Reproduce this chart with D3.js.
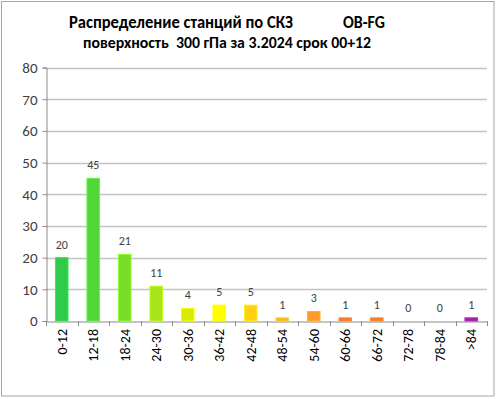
<!DOCTYPE html>
<html><head><meta charset="utf-8">
<script src="https://cdn.jsdelivr.net/npm/d3@7"></script>
<style>
html,body{margin:0;padding:0;background:#fff;}
svg{display:block;}
text{font-family:Carlito,"Open Sans","Liberation Sans",sans-serif;}
</style></head><body>
<svg id="c" width="496" height="399"></svg>
<script>
const categories = ["0-12","12-18","18-24","24-30","30-36","36-42","42-48","48-54","54-60","60-66","66-72","72-78","78-84",">84"];
const values = [20,45,21,11,4,5,5,1,3,1,1,0,0,1];
const barColors = ["#2ecc48","#52d63a","#78de28","#a8e418","#d8ec00","#ffff00","#ffd014","#ffb420","#ff9a2a","#f47a30","#f47a30","#f47a30","#f47a30","#a020a8"];
const yTicks = [0,10,20,30,40,50,60,70,80];
const titleLine1 = ["Распределение станций по СКЗ","OB-FG"];
const titleLine2 = "поверхность  300 гПа за 3.2024 срок 00+12";

const svg = d3.select("#c");
svg.append("rect").attr("x",1.5).attr("y",1.5).attr("width",492.5).attr("height",394.5)
  .attr("fill","#fff").attr("stroke","#a6a6a6").attr("stroke-width",1);

const L=46, R=487, T=67.5, B=321;
const x = d3.scaleBand().domain(categories).range([L,R]).paddingInner(0.6).paddingOuter(0.3);
const xo = d3.scaleBand().domain(categories).range([L,R]);
const y = d3.scaleLinear().domain([0,80]).range([B,T]);

// gridlines
svg.append("g").selectAll("line").data(yTicks.filter(d=>d>0)).join("line")
  .attr("x1",L).attr("x2",R).attr("y1",d=>Math.round(y(d))+0.5).attr("y2",d=>Math.round(y(d))+0.5)
  .attr("stroke","#c4c4c4").attr("stroke-width",1.5);

// y axis
const ya = svg.append("g").attr("transform",`translate(${L+0.5},0)`)
  .call(d3.axisLeft(y).tickValues(yTicks).tickSize(4).tickPadding(5));
ya.select(".domain").attr("stroke","#8c8c8c");
ya.selectAll(".tick line").attr("stroke","#8c8c8c");
ya.selectAll(".tick text").attr("font-size",15).attr("fill","#404040").attr("font-family",'Carlito,"Open Sans",sans-serif');

// x axis
const xa = svg.append("g").attr("transform",`translate(0,${B+0.5})`)
  .call(d3.axisBottom(xo).tickSize(0).tickFormat(""));
xa.select(".domain").attr("stroke","#8c8c8c");
svg.append("g").selectAll("line").data(categories.concat(["__end"])).join("line")
  .attr("x1",(d,i)=>Math.round(L+i*xo.step())+0.5).attr("x2",(d,i)=>Math.round(L+i*xo.step())+0.5)
  .attr("y1",B).attr("y2",B+5).attr("stroke","#8c8c8c");

// bars
svg.append("g").selectAll("rect").data(values).join("rect")
  .attr("x",(d,i)=>x(categories[i])).attr("width",x.bandwidth())
  .attr("y",d=>y(d)).attr("height",d=>B-y(d))
  .attr("fill",(d,i)=>barColors[i])
  .attr("stroke",(d,i)=>d3.color(barColors[i]).brighter(0.4)).attr("stroke-width",d=>d>0?1:0);

// value labels
svg.append("g").selectAll("text").data(values).join("text")
  .attr("x",(d,i)=>x(categories[i])+x.bandwidth()/2).attr("y",d=>y(d)-9)
  .attr("text-anchor","middle").attr("font-size",12).attr("fill","#404040").text(d=>d);

// x labels rotated
svg.append("g").selectAll("text").data(categories).join("text")
  .attr("transform",d=>`translate(${xo(d)+xo.bandwidth()/2+5},${B+8}) rotate(-90)`)
  .attr("text-anchor","end").attr("font-size",14).attr("fill","#000").text(d=>d);

// title
const tg = svg.append("g").attr("font-weight","bold").attr("fill","#000");
tg.append("text").attr("x",69).attr("y",28).attr("font-size",17.5)
  .attr("textLength",224).attr("lengthAdjust","spacingAndGlyphs").text(titleLine1[0]);
tg.append("text").attr("x",343).attr("y",28).attr("font-size",17.5)
  .attr("textLength",42).attr("lengthAdjust","spacingAndGlyphs").text(titleLine1[1]);
tg.append("text").attr("x",83).attr("y",48).attr("font-size",16)
  .attr("textLength",288).attr("lengthAdjust","spacingAndGlyphs")
  .attr("xml:space","preserve").style("white-space","pre").text(titleLine2);
</script></body></html>
